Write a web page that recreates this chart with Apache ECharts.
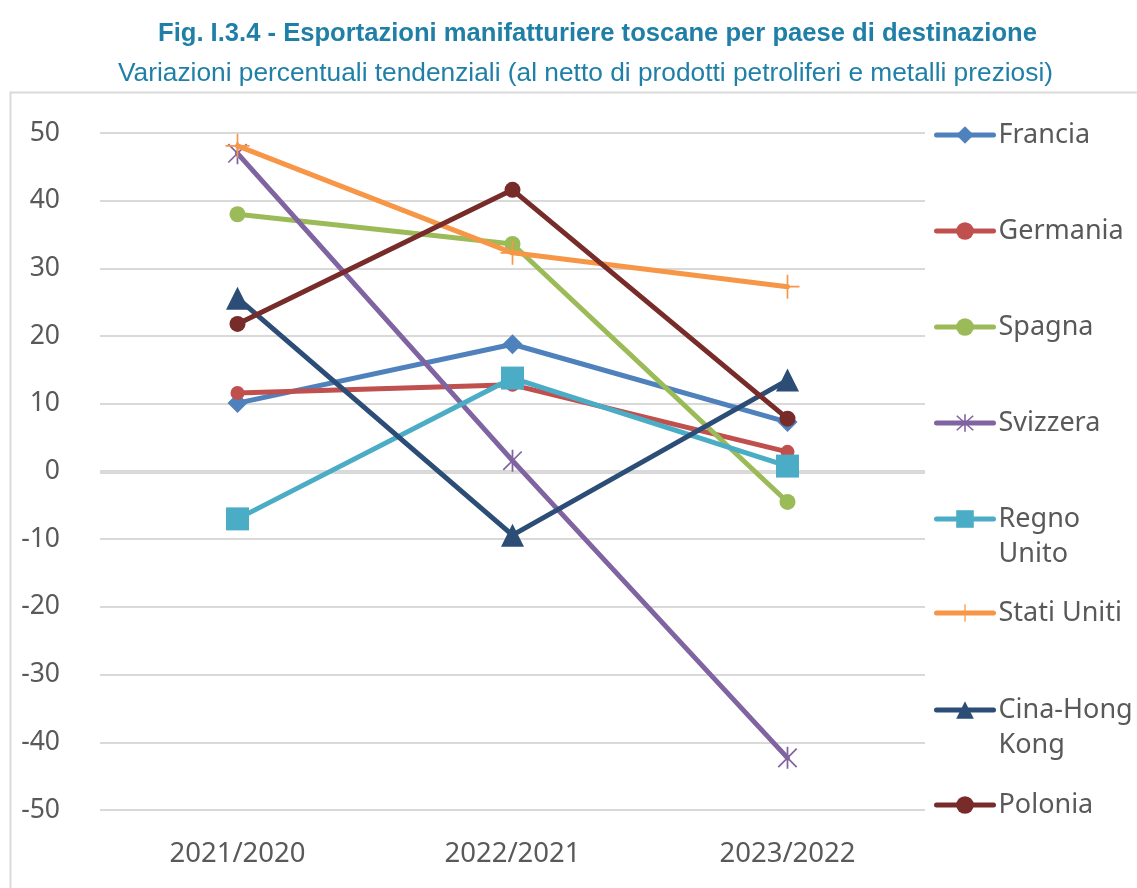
<!DOCTYPE html>
<html>
<head>
<meta charset="utf-8">
<script src="https://cdn.jsdelivr.net/npm/echarts@6/dist/echarts.min.js"></script>
<style>
  html, body { margin: 0; padding: 0; background: #ffffff; }
  #chart { width: 1137px; height: 888px; }
</style>
</head>
<body>
<div id="chart"></div>
<script>
// Periodi di confronto (asse orizzontale)
const periods = ['2021/2020', '2022/2021', '2023/2022'];

// Variazioni percentuali tendenziali per paese di destinazione
const francia    = [10.1, 18.8, 7.3];
const germania   = [11.6, 12.8, 2.9];
const spagna     = [38.0, 33.6, -4.5];
const svizzera   = [47.0, 1.6, -42.3];
const regnoUnito = [-7.0, 13.8, 0.8];
const statiUniti = [48.1, 32.3, 27.3];
const cinaHK     = [25.6, -9.4, 13.5];
const polonia    = [21.8, 41.6, 7.8];

// Etichette dell'asse verticale
const yTicks = [-50, -40, -30, -20, -10, 0, 10, 20, 30, 40, 50];

const FONT = '"Noto Sans", "Open Sans", sans-serif';
const TITLE_FONT = '"Liberation Sans", Arial, sans-serif';

// Simboli: asterisco e croce come poligoni sottili
const starPath = 'path://M9.2,0H10.8V20H9.2Z M1.1,2.2L2.2,1.1L18.9,17.8L17.8,18.9Z M17.8,1.1L18.9,2.2L2.2,18.9L1.1,17.8Z';
const plusPath = 'path://M9.3,0H10.7V20H9.3Z M0,9.3H20V10.7H0Z';

const seriesDefs = [
  { name: 'Francia',     data: francia,    color: '#4F81BD', symbol: 'diamond',  size: 20 },
  { name: 'Germania',    data: germania,   color: '#C0504D', symbol: 'circle',   size: 14 },
  { name: 'Spagna',      data: spagna,     color: '#9BBB59', symbol: 'circle',   size: 16 },
  { name: 'Svizzera',    data: svizzera,   color: '#8064A2', symbol: starPath,   size: 22 },
  { name: 'Regno Unito', data: regnoUnito, color: '#4BACC6', symbol: 'rect',     size: 23 },
  { name: 'Stati Uniti', data: statiUniti, color: '#F79646', symbol: plusPath,   size: 24 },
  { name: 'Cina-Hong Kong', data: cinaHK,  color: '#2C4D75', symbol: 'triangle', size: 23 },
  { name: 'Polonia',     data: polonia,    color: '#772C2A', symbol: 'circle',   size: 16 }
];

// Voci di legenda su due righe: la prima riga resta allineata al simbolo
const legendLabels = {
  'Regno Unito': '\nRegno\nUnito',
  'Cina-Hong Kong': '\nCina-Hong\nKong'
};
const legendCenters = [135, 231, 327, 423, 519, 613, 710, 805];
const LH = 35;

const legends = seriesDefs.map((s, i) => {
  const twoLines = !!legendLabels[s.name];
  return {
    data: [s.name],
    left: 934,
    top: legendCenters[i] - (twoLines ? LH * 1.5 : LH / 2),
    itemWidth: 57,
    itemHeight: 22,
    itemGap: 0,
    padding: 0,
    selectedMode: false,
    formatter: n => legendLabels[n] || n,
    lineStyle: { width: 5, cap: 'round' },
    textStyle: {
      fontFamily: FONT,
      fontSize: 27,
      color: '#595959',
      lineHeight: LH
    }
  };
});

const series = seriesDefs.map((s, i) => ({
  name: s.name,
  type: 'line',
  data: s.data,
  symbol: s.symbol,
  symbolSize: s.size,
  symbolKeepAspect: true,
  showAllSymbol: true,
  lineStyle: { color: s.color, width: 5, cap: 'round' },
  itemStyle: { color: s.color, borderWidth: 0 },
  emphasis: { disabled: true },
  z: 3 + i
}));

// Linea dello zero, più marcata delle altre
series.unshift({
  name: 'zero',
  type: 'line',
  data: [],
  z: 2,
  silent: true,
  markLine: {
    silent: true,
    symbol: 'none',
    label: { show: false },
    lineStyle: { color: '#d9d9d9', width: 4, type: 'solid' },
    data: [{ yAxis: 0 }]
  }
});

const chart = echarts.init(document.getElementById('chart'), null, { renderer: 'canvas' });
chart.setOption({
  backgroundColor: '#ffffff',
  animation: false,
  title: [
    {
      text: 'Fig. I.3.4 - Esportazioni manifatturiere toscane per paese di destinazione',
      left: 153,
      top: 16,
      textStyle: { fontFamily: TITLE_FONT, fontSize: 25.6, fontWeight: 'bold', color: '#1F7FA7' }
    },
    {
      text: 'Variazioni percentuali tendenziali (al netto di prodotti petroliferi e metalli preziosi)',
      left: 113,
      top: 56,
      textStyle: { fontFamily: TITLE_FONT, fontSize: 26.3, fontWeight: 'normal', color: '#1F7FA7' }
    }
  ],
  graphic: [
    {
      type: 'rect',
      shape: { x: 10.5, y: 92.5, width: 1140, height: 820 },
      style: { fill: 'none', stroke: '#d9d9d9', lineWidth: 2 },
      silent: true,
      z: -1
    }
  ],
  legend: legends,
  grid: { left: 100, right: 212, top: 133, bottom: 78, containLabel: false },
  xAxis: {
    type: 'category',
    data: periods,
    boundaryGap: true,
    axisLine: { show: false },
    axisTick: { show: false },
    splitLine: { show: false },
    axisLabel: { fontFamily: FONT, fontSize: 27.5, color: '#595959', margin: 30 }
  },
  yAxis: {
    type: 'value',
    min: yTicks[0],
    max: yTicks[yTicks.length - 1],
    interval: 10,
    axisLine: { show: false },
    axisTick: { show: false },
    splitLine: { lineStyle: { color: '#d9d9d9', width: 2 } },
    axisLabel: { fontFamily: FONT, fontSize: 26.5, color: '#595959', margin: 40 }
  },
  series: series
});
</script>
</body>
</html>
